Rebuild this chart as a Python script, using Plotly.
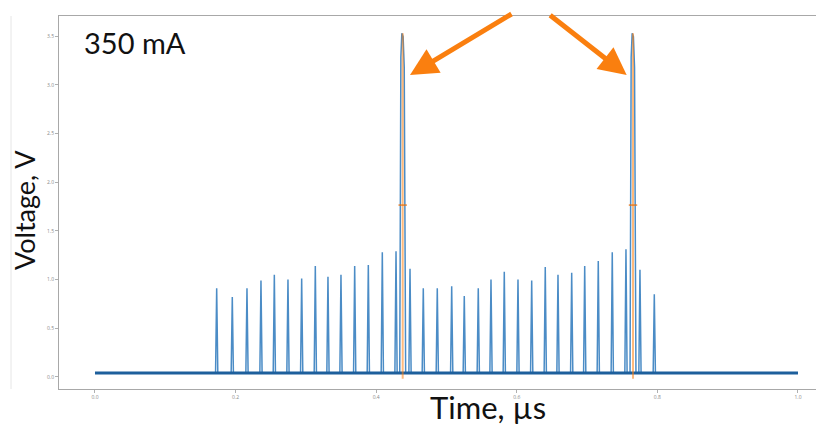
import plotly.graph_objects as go

# ---------------- data ----------------
small_pulse_t = [0.1731, 0.1953, 0.2162, 0.2361, 0.2551, 0.2745, 0.2940, 0.3134,
                 0.3314, 0.3499, 0.3694, 0.3888, 0.4087, 0.4282,
                 0.4481, 0.4670, 0.4869, 0.5074, 0.5253, 0.5452, 0.5633, 0.5822,
                 0.6017, 0.6212, 0.6405, 0.6586, 0.6781, 0.6966, 0.7159, 0.7358,
                 0.7553, 0.7752, 0.7956]
small_pulse_v = [0.91, 0.82, 0.91, 0.99, 1.05, 1.00, 1.01, 1.14,
                 1.03, 1.05, 1.14, 1.15, 1.28, 1.29,
                 1.11, 0.91, 0.91, 0.93, 0.83, 0.91, 1.00, 1.08,
                 1.00, 0.99, 1.13, 1.05, 1.07, 1.14, 1.19, 1.28,
                 1.31, 1.10, 0.85]
big_pulse_t = [0.4377, 0.7653]
big_pulse_v = [3.53, 3.53]
baseline_v = 0.04
trace_start_t = 0.0
trace_end_t = 1.0

x_ticks = [0.0, 0.2, 0.4, 0.6, 0.8, 1.0]
y_ticks = [0.0, 0.5, 1.0, 1.5, 2.0, 2.5, 3.0, 3.5]

current_label = "350 mA"
x_title = "Time, µs"
y_title = "Voltage, V"

# ---------------- build the waveform from the pulse lists ----------------
SMALL_HALF = 0.0016
events = [(t, v, "s") for t, v in zip(small_pulse_t, small_pulse_v)] + \
         [(t, v, "b") for t, v in zip(big_pulse_t, big_pulse_v)]
events.sort()

wx, wy = [trace_start_t], [baseline_v]
for t, v, kind in events:
    if kind == "s":
        wx += [t - SMALL_HALF, t, t + SMALL_HALF]
        wy += [baseline_v, v, baseline_v]
    else:
        wx += [t - 0.0042, t - 0.0026, t - 0.0012, t + 0.0006, t + 0.0022, t + 0.0042]
        wy += [baseline_v, v * 0.93, v, v * 0.99, v * 0.90, baseline_v]
wx.append(trace_end_t)
wy.append(baseline_v)

ox, oy = [], []
for t, v in zip(big_pulse_t, big_pulse_v):
    ox += [t, t, None]
    oy += [-0.02, v, None]

fig = go.Figure()
fig.add_trace(go.Scatter(x=wx, y=wy, mode="lines",
                         line=dict(color="#4b8cc6", width=1.5), hoverinfo="skip"))
fig.add_trace(go.Scatter(x=[trace_start_t, trace_end_t], y=[baseline_v, baseline_v],
                         mode="lines", line=dict(color="#1d5f9c", width=3), hoverinfo="skip"))
fig.add_trace(go.Scatter(x=ox, y=oy, mode="lines",
                         line=dict(color="rgba(255,127,14,0.55)", width=2), hoverinfo="skip"))
fig.add_trace(go.Scatter(x=big_pulse_t, y=[v / 2 for v in big_pulse_v], mode="markers",
                         marker=dict(symbol="line-ew", size=6,
                                     line=dict(color="rgba(230,110,10,0.8)", width=1.5)),
                         hoverinfo="skip"))

# arrows pointing at the two big pulses
arrow_color = "#fa7f0f"
arrow_specs = [(big_pulse_t[0] + 0.0104, 103, -62), (big_pulse_t[1] - 0.009, -78, -61)]
for tx, ax, ay in arrow_specs:
    fig.add_annotation(x=tx, y=3.10, xref="x", yref="y", text="", showarrow=True,
                       ax=ax, ay=ay, axref="pixel", ayref="pixel",
                       arrowcolor=arrow_color, arrowwidth=5, arrowhead=2, arrowsize=1.1)

big_font = dict(family="Lato, 'Open Sans', sans-serif", size=30, color="#111111")
fig.add_annotation(x=0.057, y=3.44, xref="x", yref="y", text=current_label,
                   xanchor="center", yanchor="middle",
                   showarrow=False, font=dict(big_font, size=29))
fig.add_annotation(x=0.561, y=-0.047, xref="paper", yref="paper", text=x_title,
                   xanchor="center", yanchor="middle",
                   showarrow=False, font=dict(big_font, size=31))
fig.add_annotation(x=-0.0444, y=0.48, xref="paper", yref="paper", text=y_title,
                   xanchor="center", yanchor="middle",
                   textangle=-90, showarrow=False, font=dict(big_font, size=27))

# faint slide border on the left
fig.add_shape(type="line", xref="paper", yref="paper", x0=-0.0627, x1=-0.0627,
              y0=0.0, y1=1.0, line=dict(color="#e6e6e6", width=1))

# the page body adds an 8px offset, so the figure is sized/margined to compensate
fig.update_layout(
    width=816, height=416,
    margin=dict(l=51, r=0, t=8, b=35),
    paper_bgcolor="white", plot_bgcolor="white",
    showlegend=False,
)
fig.update_xaxes(range=[-0.0512, 1.037], tickvals=x_ticks,
                 ticktext=[f"{v:.1f}" for v in x_ticks],
                 showline=True, mirror=True, linecolor="#a8a8a8", linewidth=1,
                 ticks="outside", ticklen=3, tickcolor="#b0b0b0",
                 tickfont=dict(size=5, color="#888888"),
                 showgrid=False, zeroline=False)
fig.update_yaxes(range=[-0.124, 3.707], tickvals=y_ticks,
                 ticktext=[f"{v:.1f}" for v in y_ticks],
                 showline=True, mirror=False, linecolor="#a8a8a8", linewidth=1,
                 ticks="outside", ticklen=3, tickcolor="#b0b0b0",
                 tickfont=dict(size=5, color="#888888"),
                 showgrid=False, zeroline=False)

fig.write_html("out.html")
